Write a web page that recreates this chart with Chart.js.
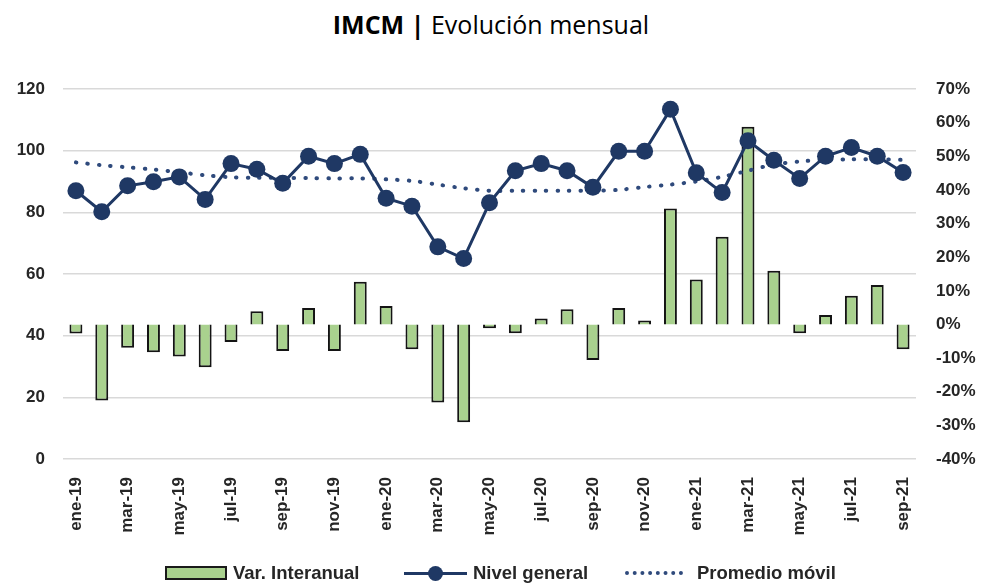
<!DOCTYPE html>
<html>
<head>
<meta charset="utf-8">
<script src="https://cdn.jsdelivr.net/npm/chart.js@4.4.0/dist/chart.umd.min.js"></script>
<style>
  body { margin: 0; background: #fff; }
  #wrap { position: relative; width: 982px; height: 586px; overflow: hidden; font-family: 'Liberation Sans', Arial, sans-serif; }
  #title { position: absolute; left: 0; top: 7px; width: 982px; text-align: center; font-size: 25px; color: #000; font-family: 'Open Sans', sans-serif; }
  #title b { font-weight: 700; }
  canvas { position: absolute; left: 0; top: 0; }
  #legend { position: absolute; top: 563px; left: 0; width: 982px; height: 20px; font-size: 18.5px; font-weight: 700; color: #262626; }
  .item { position: absolute; top: 0; display: flex; align-items: center; height: 20px; }
  .box { width: 58px; height: 10px; background: #a9d18e; border: 2px solid #1a1a1a; margin-right: 6px; }
  .ln { position: relative; width: 63px; height: 3px; background: #1f3864; margin-right: 6px; }
  .ln:after { content: ''; position: absolute; left: 24px; top: -6px; width: 15px; height: 15px; border-radius: 50%; background: #1f3864; }
  .dots { width: 58px; height: 0; border-top: 4px dotted #2f4a7c; margin-right: 14px; }
</style>
</head>
<body>
<div id="wrap">
  <div id="title"><b>IMCM |</b> Evolución mensual</div>
  <canvas id="chart" width="982" height="586"></canvas>
  <div id="legend">
    <div class="item" style="left:165px"><span class="box"></span>Var. Interanual</div>
    <div class="item" style="left:404px"><span class="ln"></span>Nivel general</div>
    <div class="item" style="left:625px"><span class="dots"></span>Promedio móvil</div>
  </div>
</div>
<script>
const months = ['ene-19','feb-19','mar-19','abr-19','may-19','jun-19','jul-19','ago-19','sep-19','oct-19','nov-19','dic-19',
  'ene-20','feb-20','mar-20','abr-20','may-20','jun-20','jul-20','ago-20','sep-20','oct-20','nov-20','dic-20',
  'ene-21','feb-21','mar-21','abr-21','may-21','jun-21','jul-21','ago-21','sep-21'];

const nivelGeneral = [87.0, 80.2, 88.6, 89.9, 91.5, 84.2, 95.8, 94.0, 89.4, 98.2, 95.8, 98.8,
  84.6, 82.0, 68.8, 65.0, 83.1, 93.5, 95.8, 93.5, 88.1, 99.8, 99.8, 113.4,
  92.8, 86.4, 103.2, 96.9, 91.0, 98.2, 101.0, 98.2, 92.9];

const promedioMovil = [96.2, 95.3, 94.6, 93.9, 93.0, 92.0, 91.4, 91.2, 91.2, 91.1, 91.0, 91.0,
  90.7, 90.2, 89.0, 87.8, 87.0, 87.0, 87.0, 87.0, 87.0, 87.3, 88.2, 89.0,
  90.0, 91.5, 93.5, 95.5, 96.5, 97.0, 97.2, 97.2, 97.0];

// variación interanual, en %
const varInteranual = [-2.7, -22.6, -6.9, -8.3, -9.5, -12.7, -5.2, 3.9, -7.9, 4.9, -7.9, 12.7,
  5.5, -7.4, -23.2, -29.1, -1.1, -2.6, 1.8, 4.5, -10.6, 4.9, 1.2, 34.5,
  13.4, 26.1, 58.8, 16.0, -2.6, 2.8, 8.5, 11.7, -7.4];

const tickFont = { family: "'Liberation Sans', Arial, sans-serif", size: 17, weight: 'bold' };
const tickColor = '#262626';

const ctx = document.getElementById('chart').getContext('2d');
new Chart(ctx, {
  type: 'bar',
  data: {
    labels: months,
    datasets: [
      {
        type: 'line',
        label: 'Nivel general',
        data: nivelGeneral,
        yAxisID: 'y',
        borderColor: '#1f3864',
        backgroundColor: '#1f3864',
        borderWidth: 3,
        pointRadius: 8.5,
        pointBorderWidth: 0,
        tension: 0,
        order: 0,
      },
      {
        type: 'line',
        label: 'Promedio móvil',
        data: promedioMovil,
        yAxisID: 'y',
        borderColor: '#2f4a7c',
        borderWidth: 4,
        borderDash: [0.5, 11],
        borderCapStyle: 'round',
        pointRadius: 0,
        tension: 0.3,
        order: 1,
      },
      {
        type: 'bar',
        label: 'Var. Interanual',
        data: varInteranual,
        yAxisID: 'y1',
        backgroundColor: '#a9d18e',
        borderColor: '#141414',
        borderWidth: 2,
        barPercentage: 0.5,
        categoryPercentage: 1,
        order: 2,
      },
    ],
  },
  options: {
    responsive: false,
    animation: false,
    layout: { padding: { top: 89, right: 0, bottom: 0, left: 0 } },
    plugins: {
      legend: { display: false },
      title: { display: false },
      tooltip: { enabled: false },
    },
    scales: {
      x: {
        grid: { display: false },
        border: { display: false },
        ticks: {
          autoSkip: false,
          maxRotation: 90,
          minRotation: 90,
          padding: 10,
          font: tickFont,
          color: tickColor,
          callback: function (value, index) {
            return index % 2 === 0 ? months[index] : '';
          },
        },
        afterFit: (scale) => { scale.height = 127; },
      },
      y: {
        position: 'left',
        min: 0,
        max: 120,
        ticks: { stepSize: 20, padding: 18, font: tickFont, color: tickColor },
        grid: { color: '#d9d9d9', lineWidth: 1.5, drawTicks: false },
        border: { display: false },
        afterFit: (scale) => { scale.width = 63; },
      },
      y1: {
        position: 'right',
        min: -40,
        max: 70,
        ticks: {
          stepSize: 10,
          padding: 20,
          font: tickFont,
          color: tickColor,
          callback: (v) => v + '%',
        },
        grid: { display: false, drawTicks: false },
        border: { display: false },
        afterFit: (scale) => { scale.width = 66; },
      },
    },
  },
});
</script>
</body>
</html>
